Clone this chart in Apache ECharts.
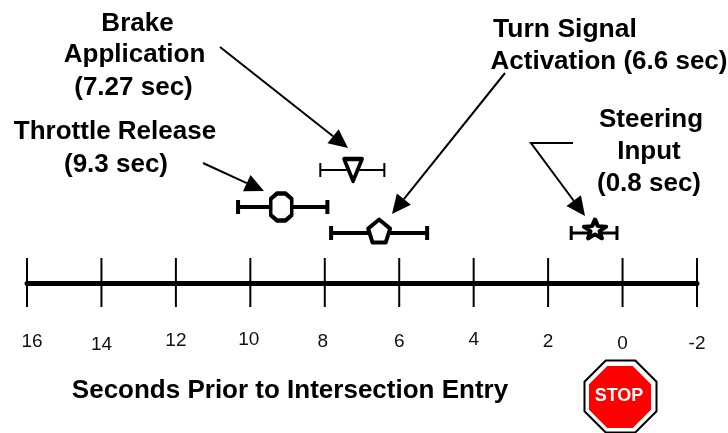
<!DOCTYPE html>
<html>
<head>
<meta charset="utf-8">
<style>html,body{margin:0;padding:0;background:#fff}#main{width:728px;height:433px}</style>
<script src="https://cdn.jsdelivr.net/npm/echarts@6/dist/echarts.min.js"></script>
</head>
<body>
<div id="main"></div>
<script>
'use strict'
var tickValues = [16, 14, 12, 10, 8, 6, 4, 2, 0, -2];
var eventNames = ['Brake Application', 'Throttle Release', 'Turn Signal Activation', 'Steering Input'];
var eventMeans = [7.24, 9.17, 6.54, 0.74];
var eventLows = [6.4, 7.93, 5.25, 0.15];
var eventHighs = [8.12, 10.33, 7.83, 1.38];
var eventRows = [113, 76, 50, 50];

var font = '"Liberation Sans", Arial, sans-serif';
var barWidths = [2, 4, 4, 3];
var symbols = [
    'path://M0 0L20 0L10 26Z',
    'path://M6 0L14 0L20 6L20 24L14 30L6 30L0 24L0 6Z',
    'path://M10 0L20 8L16 20L4 20L0 8Z',
    'path://M10 0L12.6 6.9L20 7.6L14.2 12.2L16.2 20L10 15.6L3.8 20L5.8 12.2L0 7.6L7.4 6.9Z'
];
var symbolSizes = [[18, 22], [21, 27], [22, 23], [22, 19]];
var symbolOffsets = [[0, 0], [0, 0], [0, -2], [0, -4]];
var symbolBorders = [4, 4, 4, 4];

// small shifts of the hand placed tick labels in the original
var labelShifts = {16: [2, 10, 0], 14: [5, 0, 0], 12: [1, 0, 0], 10: [0, 0, 3], 8: [2, 0, 4], 6: [2, 0, 0], 4: [0, 0, 0], 2: [2, 0, 0], 0: [4, 0, 0], '-2': [4, 0, 0]};
var labelRich = {};
tickValues.forEach(function (v, i) {
    var s = labelShifts[v];
    labelRich['t' + i] = {fontFamily: font, fontSize: 19, color: '#111', padding: [s[0], s[2], 0, s[1]]};
});

function boldText(x, y, text, size) {
    return {
        type: 'text', x: x, y: y, z: 20,
        style: {text: text, fontFamily: font, fontWeight: 'bold', fontSize: size, lineHeight: 32, fill: '#000', align: 'center', verticalAlign: 'middle'}
    };
}

function arrow(points) {
    var tip = points[points.length - 1], from = points[points.length - 2];
    var dx = tip[0] - from[0], dy = tip[1] - from[1], len = Math.sqrt(dx * dx + dy * dy);
    dx /= len; dy /= len;
    var bx = tip[0] - dx * 19, by = tip[1] - dy * 19;
    return [
        {type: 'polyline', z: 15, shape: {points: points.slice(0, -1).concat([[bx, by]])}, style: {stroke: '#000', lineWidth: 2, fill: null}},
        {type: 'polygon', z: 15, shape: {points: [tip, [bx - dy * 9, by + dx * 9], [bx + dy * 9, by - dx * 9]]}, style: {fill: '#000'}}
    ];
}

function octagon(cx, cy, r) {
    var k = r * 0.41;
    return [[cx - k, cy - r], [cx + k, cy - r], [cx + r, cy - k], [cx + r, cy + k], [cx + k, cy + r], [cx - k, cy + r], [cx - r, cy + k], [cx - r, cy - k]];
}

var chart = echarts.init(document.getElementById('main'), null, {renderer: 'canvas'});
var option = {
    animation: false,
    backgroundColor: '#fff',
    grid: {left: 27, right: 31, top: 0, bottom: 150, outerBoundsMode: 'none'},
    xAxis: {
        type: 'value', inverse: true, min: -2, max: 16, interval: 2,
        splitLine: {show: false},
        axisTick: {show: false},
        axisLine: {onZero: false, lineStyle: {color: '#000', width: 5, cap: 'round'}},
        axisLabel: {
            margin: 47,
            showMinLabel: true, showMaxLabel: true,
            formatter: function (v) { return '{t' + tickValues.indexOf(v) + '|' + v + '}'; },
            rich: labelRich
        }
    },
    yAxis: {type: 'value', min: 0, max: 283, show: false},
    series: [
        {
            type: 'custom', name: 'ticks', silent: true, z: 3, clip: false,
            data: tickValues.map(function (v) { return [v]; }),
            encode: {x: 0},
            renderItem: function (params, api) {
                var up = api.coord([api.value(0), 25]);
                var down = api.coord([api.value(0), -24]);
                return {type: 'line', shape: {x1: up[0], y1: up[1], x2: down[0], y2: down[1]}, style: {stroke: '#000', lineWidth: 2}};
            }
        },
        {
            type: 'custom', name: 'spread', silent: true, z: 4,
            data: eventNames.map(function (n, i) { return [eventLows[i], eventHighs[i], eventRows[i]]; }),
            encode: {x: [0, 1], y: 2},
            renderItem: function (params, api) {
                var a = api.coord([api.value(0), api.value(2)]);
                var b = api.coord([api.value(1), api.value(2)]);
                var st = {stroke: '#000', lineWidth: barWidths[params.dataIndex]};
                return {type: 'group', children: [
                    {type: 'line', shape: {x1: a[0], y1: a[1], x2: b[0], y2: b[1]}, style: st},
                    {type: 'line', shape: {x1: a[0], y1: a[1] - 7, x2: a[0], y2: a[1] + 7}, style: st},
                    {type: 'line', shape: {x1: b[0], y1: b[1] - 7, x2: b[0], y2: b[1] + 7}, style: st}
                ]};
            }
        },
        {
            type: 'scatter', name: 'mean', silent: true, z: 5,
            data: eventNames.map(function (n, i) {
                return {
                    name: n, value: [eventMeans[i], eventRows[i]],
                    symbol: symbols[i], symbolSize: symbolSizes[i], symbolOffset: symbolOffsets[i],
                    itemStyle: {color: '#fff', borderColor: '#000', borderWidth: symbolBorders[i], borderJoin: 'round', opacity: 1}
                };
            })
        }
    ],
    graphic: [
        boldText(137.5, 24, 'Brake', 26),
        boldText(134.5, 55, 'Application', 26),
        boldText(133.5, 88, '(7.27 sec)', 26),
        boldText(115, 132, 'Throttle Release', 26),
        boldText(116, 165, '(9.3 sec)', 26),
        boldText(565, 30, 'Turn Signal', 26.5),
        boldText(609, 62, 'Activation (6.6 sec)', 26),
        boldText(651, 120, 'Steering', 26),
        boldText(649, 152, 'Input', 26),
        boldText(649, 184, '(0.8 sec)', 26),
        boldText(290, 391, 'Seconds Prior to Intersection Entry', 26)
    ].concat(
        arrow([[220, 47], [348, 148]]),
        arrow([[203, 163], [264, 191]]),
        arrow([[505, 73], [392, 214]]),
        arrow([[573, 143], [531, 143], [585, 216]]),
        [
            {type: 'polygon', z: 15, shape: {points: octagon(620.5, 396.5, 36)}, style: {fill: '#fff', stroke: '#000', lineWidth: 2}},
            {type: 'polygon', z: 16, shape: {points: octagon(620, 397, 31)}, style: {fill: '#ff0000'}},
            {type: 'text', x: 619, y: 396, z: 17, style: {text: 'STOP', fontFamily: font, fontWeight: 'bold', fontSize: 18, fill: '#fff', align: 'center', verticalAlign: 'middle'}}
        ]
    )
};
chart.setOption(option);
</script>
</body>
</html>
